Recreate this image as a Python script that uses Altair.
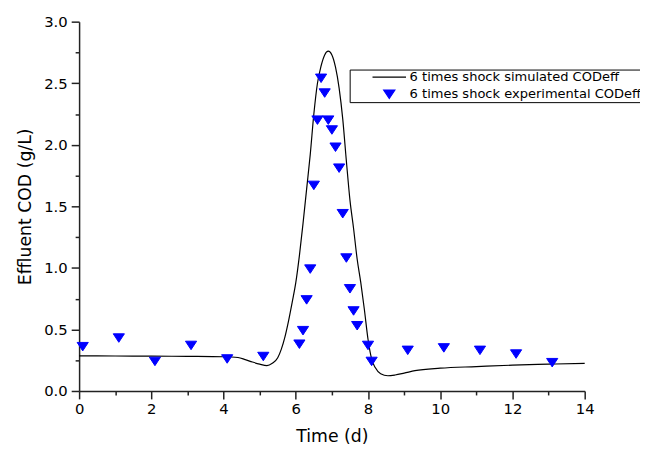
import altair as alt
import pandas as pd

# ---- data ----
series_names = ["6 times shock simulated CODeff", "6 times shock experimental CODeff"]
series_colors = ["#000000", "#0000FF"]

sim_x = [0, 1, 2, 3, 4, 4.4, 4.6, 4.8, 5.0, 5.2, 5.35, 5.5, 5.6, 5.7, 5.8, 5.9,
         6.0, 6.1, 6.2, 6.3, 6.4, 6.5, 6.6, 6.7, 6.8, 6.9, 7.0, 7.1, 7.2, 7.3,
         7.4, 7.5, 7.6, 7.7, 7.8, 7.9, 8.0, 8.1, 8.2, 8.35, 8.55, 8.75, 9.0,
         9.3, 10, 11, 12, 13, 14]
sim_y = [0.285, 0.284, 0.283, 0.281, 0.278, 0.272, 0.255, 0.235, 0.218, 0.206,
         0.225, 0.27, 0.34, 0.44, 0.57, 0.72,
         0.88, 1.10, 1.36, 1.64, 1.92, 2.25, 2.50, 2.64, 2.73, 2.76, 2.73, 2.63,
         2.46, 2.21, 1.87, 1.55, 1.32, 1.07, 0.88, 0.66, 0.42, 0.26, 0.19, 0.14,
         0.124, 0.13, 0.145, 0.165, 0.185, 0.198, 0.21, 0.218, 0.225]

exp_x = [0.1, 1.1, 2.1, 3.1, 4.1, 5.1, 6.1, 6.2, 6.3, 6.4, 6.5, 6.6, 6.7, 6.8,
         6.9, 7.0, 7.1, 7.2, 7.3, 7.4, 7.5, 7.6, 7.7, 8.0, 8.1, 9.1, 10.1, 11.1,
         12.1, 13.1]
exp_y = [0.36, 0.43, 0.24, 0.37, 0.26, 0.28, 0.38, 0.49, 0.74, 0.99, 1.67, 2.20,
         2.54, 2.42, 2.20, 2.12, 1.98, 1.81, 1.44, 1.08, 0.83, 0.65, 0.53, 0.37,
         0.24, 0.33, 0.35, 0.33, 0.30, 0.23]

x_ticks = list(range(0, 15))
y_ticks = [0, 0.25, 0.5, 0.75, 1.0, 1.25, 1.5, 1.75, 2.0, 2.25, 2.5, 2.75, 3.0]

sim_df = pd.DataFrame({"t": sim_x, "cod": sim_y, "series": series_names[0]})
exp_df = pd.DataFrame({"t": exp_x, "cod": exp_y, "series": series_names[1]})

FONT = "DejaVu Sans"

x_enc = alt.X(
    "t:Q",
    scale=alt.Scale(domain=[0, 14], nice=False, zero=False),
    axis=alt.Axis(
        values=x_ticks,
        labelExpr="datum.value % 2 === 0 ? datum.label : ''",
        tickSize={"condition": {"test": "datum.value % 2 === 0", "value": 8}, "value": 4},
        title="Time (d)",
        labelPadding=3,
        titlePadding=11,
        labelFlush=False,
    ),
)
y_enc = alt.Y(
    "cod:Q",
    scale=alt.Scale(domain=[0, 3], nice=False),
    axis=alt.Axis(
        values=y_ticks,
        format=".1f",
        labelExpr="datum.value % 0.5 === 0 ? datum.label : ''",
        tickSize={"condition": {"test": "datum.value % 0.5 === 0", "value": 8}, "value": 4},
        title="Effluent COD (g/L)",
        labelPadding=4,
        titlePadding=9,
        labelFlush=False,
    ),
)

legend = alt.Legend(
    title=None,
    orient="none",
    legendX=274,
    legendY=48.5,
    strokeColor="black",
    padding=1,
    rowPadding=3.4,
    symbolOffset=32.5,
    labelOffset=14,
    labelFont=FONT,
    labelFontSize=13.2,
    labelColor="black",
    labelLimit=600,
    labelExpr="datum.label + '    '",
    symbolStrokeWidth=1.2,
    symbolSize=128,
)

color_scale = alt.Scale(domain=series_names, range=series_colors)
# legend line sample and a slightly flattened downward triangle
shape_scale = alt.Scale(domain=series_names,
                        range=["M-3,0H3", "M-1,-0.76L1,-0.76L0,0.76Z"])

line = alt.Chart(sim_df).mark_line(strokeWidth=1.2, interpolate="monotone").encode(
    x=x_enc,
    y=y_enc,
    stroke=alt.Stroke("series:N", scale=color_scale, legend=legend),
)

points = alt.Chart(exp_df).mark_point(filled=True, size=128, opacity=1, strokeWidth=1).encode(
    x=x_enc,
    y=y_enc,
    fill=alt.Fill("series:N", scale=color_scale, legend=legend),
    stroke=alt.Stroke("series:N", scale=color_scale, legend=legend),
    shape=alt.Shape("series:N", scale=shape_scale, legend=legend),
)

chart = (
    alt.layer(line, points)
    .properties(
        width=512,
        height=374,
        autosize=alt.AutoSizeParams(type="none"),
        padding={"left": 72, "top": 11, "right": 56, "bottom": 63},
        background="white",
    )
    .configure_view(stroke="transparent")
    .configure_axis(
        grid=False,
        domainColor="#222222",
        tickColor="#222222",
        domainWidth=1.5,
        tickWidth=1.5,
        labelFont=FONT,
        labelFontSize=15,
        labelColor="black",
        titleFont=FONT,
        titleFontSize=17.5,
        titleFontWeight="normal",
        titleColor="black",
    )
)

chart.save("out.html", embed_options={"renderer": "svg", "actions": False})
